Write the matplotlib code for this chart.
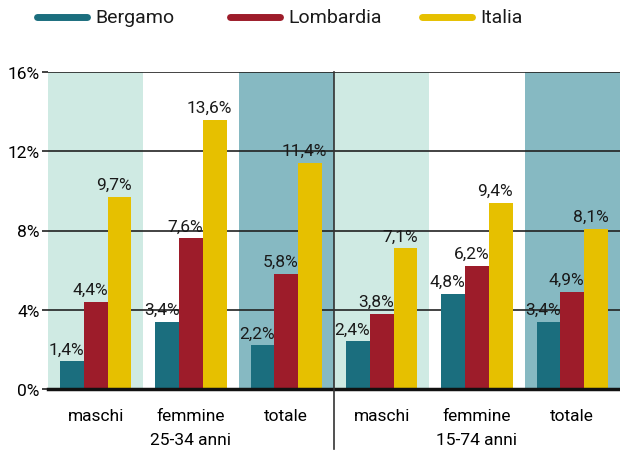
import matplotlib
matplotlib.use("Agg")
import matplotlib.pyplot as plt
import matplotlib.transforms as mtransforms
from matplotlib.lines import Line2D
import numpy as np

plt.rcParams['font.family'] = ['Roboto', 'DejaVu Sans']

categories = ["maschi", "femmine\n25-34 anni", "totale", "maschi", "femmine\n15-74 anni", "totale"]
series_names = ["Bergamo", "Lombardia", "Italia"]
bergamo = [1.4, 3.4, 2.2, 2.4, 4.8, 3.4]
lombardia = [4.4, 7.6, 5.8, 3.8, 6.2, 4.9]
italia = [9.7, 13.6, 11.4, 7.1, 9.4, 8.1]
yticks = [0, 4, 8, 12, 16]
ytick_labels = ["0%", "4%", "8%", "12%", "16%"]

colors = ["#1b6e7e", "#9d1c2a", "#e6c000"]
band_colors = ["#cfeae3", "#ffffff", "#86b9c2"]

W, H = 620, 456
fig = plt.figure(figsize=(W/100, H/100), dpi=100)
ax = fig.add_axes([48/W, 1 - 390/H, 572/W, (390-73)/H])

x = np.arange(len(categories))
ax.set_xlim(-0.5, len(categories) - 0.5)
ax.set_ylim(0, 16)

for i in range(len(categories)):
    ax.axvspan(i - 0.5, i + 0.5, color=band_colors[i % 3], zorder=0, lw=0)

for y in yticks[1:]:
    ax.axhline(y, color="#222222", lw=1.2, zorder=1)

w = 0.25
data = [bergamo, lombardia, italia]
for k, (vals, c) in enumerate(zip(data, colors)):
    xs = x + (k - 1) * w
    ax.bar(xs, vals, width=w, color=c, zorder=2, lw=0)
    for xi, v in zip(xs, vals):
        ax.annotate(f"{v:.1f}%".replace(".", ","), (xi, v), xytext=(-4, 3.5),
                    textcoords="offset points", ha="center", va="bottom",
                    fontsize=12.5, color="#1a1a1a", zorder=3)

ax.axhline(0, color="#111111", lw=2.5, zorder=4, clip_on=False)

trans = mtransforms.blended_transform_factory(ax.transData, ax.transAxes)
ax.plot([2.5, 2.5], [-0.19, 1.0], transform=trans, color="#333333", lw=1.2, clip_on=False, zorder=5)

ax.set_yticks(yticks)
ax.set_yticklabels(ytick_labels, fontsize=12.5)
ax.tick_params(axis="y", length=4, width=1.2, color="#222222", pad=2)
ax.set_xticks(x)
ax.set_xticklabels(categories, fontsize=12.5, linespacing=1.75)
ax.tick_params(axis="x", length=0, pad=14)
for s in ax.spines.values():
    s.set_visible(False)

# legend drawn manually in figure pixel coordinates
leg_x = [37, 230, 422]
for lx, name, c in zip(leg_x, series_names, colors):
    fig.add_artist(Line2D([lx/W, (lx+50)/W], [1 - 18/H, 1 - 18/H], color=c, lw=5,
                          solid_capstyle="round", transform=fig.transFigure))
    fig.text((lx+58)/W, 1 - 18/H, name, ha="left", va="center", fontsize=14, color="#1a1a1a")

fig.savefig("out.png", dpi=100)
